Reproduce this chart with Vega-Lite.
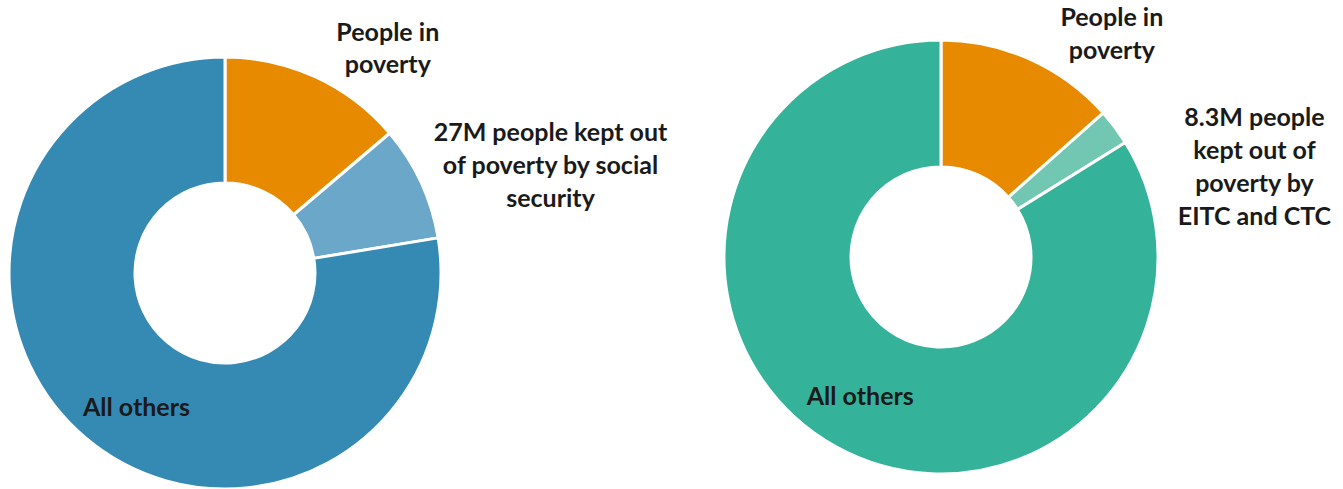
{
  "$schema": "https://vega.github.io/schema/vega-lite/v6.json",
  "padding": 0,
  "autosize": {"type": "pad"},
  "background": "white",
  "bounds": "flush",
  "spacing": 266,
  "config": {"view": {"stroke": null}},
  "resolve": {"scale": {"color": "independent", "theta": "independent"}},
  "hconcat": [
    {
      "width": 450,
      "height": 546,
      "data": {"values": [
        {"category": "People in poverty", "label": "People in\npoverty", "value": 13.8, "rank": 1},
        {"category": "Kept out", "label": "27M people kept out\nof poverty by social\nsecurity", "value": 8.6, "rank": 2},
        {"category": "All others", "label": "All others", "value": 77.6, "rank": 3}
      ]},
      "encoding": {
        "theta": {"field": "value", "type": "quantitative", "stack": true},
        "order": {"field": "rank", "type": "quantitative"}
      },
      "layer": [
        {
          "mark": {"type": "arc", "innerRadius": 90, "outerRadius": 216, "stroke": "white", "strokeWidth": 3},
          "encoding": {
            "color": {"field": "category", "type": "nominal", "legend": null,
              "scale": {"domain": ["People in poverty", "Kept out", "All others"], "range": ["#E88A00", "#6aa7c9", "#358AB3"]}}
          }
        },
        {
          "mark": {"type": "text", "radius": 278, "dx": 46, "dy": 12, "font": "Lato", "fontWeight": "bold", "fontSize": 25, "lineHeight": 32, "lineBreak": "\n", "align": "center", "baseline": "middle", "color": "#1a1a1a"},
          "encoding": {"text": {"condition": {"test": "datum.rank == 1", "field": "label"}, "value": ""}}
        },
        {
          "mark": {"type": "text", "radius": 200, "dx": 144, "dy": -56, "font": "Lato", "fontWeight": "bold", "fontSize": 25, "lineHeight": 33, "lineBreak": "\n", "align": "center", "baseline": "middle", "color": "#1a1a1a"},
          "encoding": {"text": {"condition": {"test": "datum.rank == 2", "field": "label"}, "value": ""}}
        },
        {
          "mark": {"type": "text", "radius": 160, "dx": 15, "dy": 13, "font": "Lato", "fontWeight": "bold", "fontSize": 25, "lineHeight": 33, "lineBreak": "\n", "align": "center", "baseline": "middle", "color": "#1a1a1a"},
          "encoding": {"text": {"condition": {"test": "datum.rank == 3", "field": "label"}, "value": ""}}
        }
      ]
    },
    {
      "width": 450,
      "height": 514,
      "data": {"values": [
        {"category": "People in poverty", "label": "People in\npoverty", "value": 13.45, "rank": 1},
        {"category": "Kept out", "label": "8.3M people\nkept out of\npoverty by\nEITC and CTC", "value": 2.7, "rank": 2},
        {"category": "All others", "label": "All others", "value": 83.85, "rank": 3}
      ]},
      "encoding": {
        "theta": {"field": "value", "type": "quantitative", "stack": true},
        "order": {"field": "rank", "type": "quantitative"}
      },
      "layer": [
        {
          "mark": {"type": "arc", "innerRadius": 90, "outerRadius": 217, "stroke": "white", "strokeWidth": 3},
          "encoding": {
            "color": {"field": "category", "type": "nominal", "legend": null,
              "scale": {"domain": ["People in poverty", "Kept out", "All others"], "range": ["#E88A00", "#72c7b3", "#35B39A"]}}
          }
        },
        {
          "mark": {"type": "text", "radius": 280, "dx": 56, "dy": 16, "font": "Lato", "fontWeight": "bold", "fontSize": 25, "lineHeight": 33, "lineBreak": "\n", "align": "center", "baseline": "middle", "color": "#1a1a1a"},
          "encoding": {"text": {"condition": {"test": "datum.rank == 1", "field": "label"}, "value": ""}}
        },
        {
          "mark": {"type": "text", "radius": 300, "dx": 73, "dy": 40, "font": "Lato", "fontWeight": "bold", "fontSize": 25, "lineHeight": 33, "lineBreak": "\n", "align": "center", "baseline": "middle", "color": "#1a1a1a"},
          "encoding": {"text": {"condition": {"test": "datum.rank == 2", "field": "label"}, "value": ""}}
        },
        {
          "mark": {"type": "text", "radius": 160, "dx": -3, "dy": 0, "font": "Lato", "fontWeight": "bold", "fontSize": 25, "lineHeight": 33, "lineBreak": "\n", "align": "center", "baseline": "middle", "color": "#1a1a1a"},
          "encoding": {"text": {"condition": {"test": "datum.rank == 3", "field": "label"}, "value": ""}}
        }
      ]
    }
  ]
}
